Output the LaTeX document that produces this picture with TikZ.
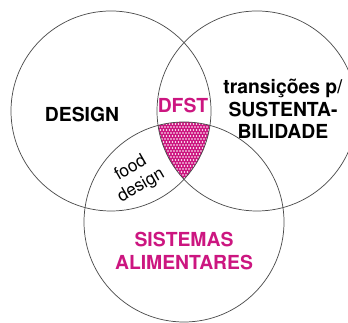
\documentclass[tikz,border=0pt]{standalone}
\usepackage[T1]{fontenc}
\usepackage{helvet}
\usepackage{tikz}
\definecolor{dfstpink}{RGB}{204,22,128}

\tikzset{
	ring/.style={draw=black!70,line width=0.55pt},
	bigtxt/.style={font=\sffamily\bfseries\fontsize{14.5}{17}\selectfont,align=center,inner sep=0pt},
	smalltxt/.style={font=\sffamily\fontsize{13}{15.5}\selectfont,align=center,inner sep=0pt}
}

\begin{document}
\begin{tikzpicture}[x=0.75pt,y=0.75pt]
			\useasboundingbox (0,0) rectangle (348,323);
			
			\coordinate (design) at (111,212);
			\coordinate (trans) at (257,212);
			\coordinate (sist) at (184,101);
			
			\begin{scope}
				\clip (0,0) rectangle (348,323);
				\clip (design) circle (100);
				\clip (trans) circle (100);
				\fill[dfstpink] (sist) circle (100);
				\foreach \x in {150,153,...,220}
					\foreach \y in {133,136,...,205}
						\fill[white] ({\x+mod(\y,2)*1.5},\y) circle (0.8);
			\end{scope}
			
			\begin{scope}
				\clip (0,0) rectangle (348,323);
				\draw[ring] (design) circle (100);
				\draw[ring] (trans) circle (100);
				\draw[ring] (sist) circle (100);
			\end{scope}
			
			\node[bigtxt] (designtxt) at (82,208) {DESIGN};
			\node[bigtxt,dfstpink] (dfst) at (183,217) {DFST};
			\node[bigtxt] (transtxt) at (283,214) {transições p/\\SUSTENTA-\\BILIDADE};
			\node[bigtxt,dfstpink] (sisttxt) at (184,72) {SISTEMAS\\ALIMENTARES};
			\node[smalltxt,rotate=30] (food) at (136,146) {food\\design};
		  \end{tikzpicture}
\end{document}
